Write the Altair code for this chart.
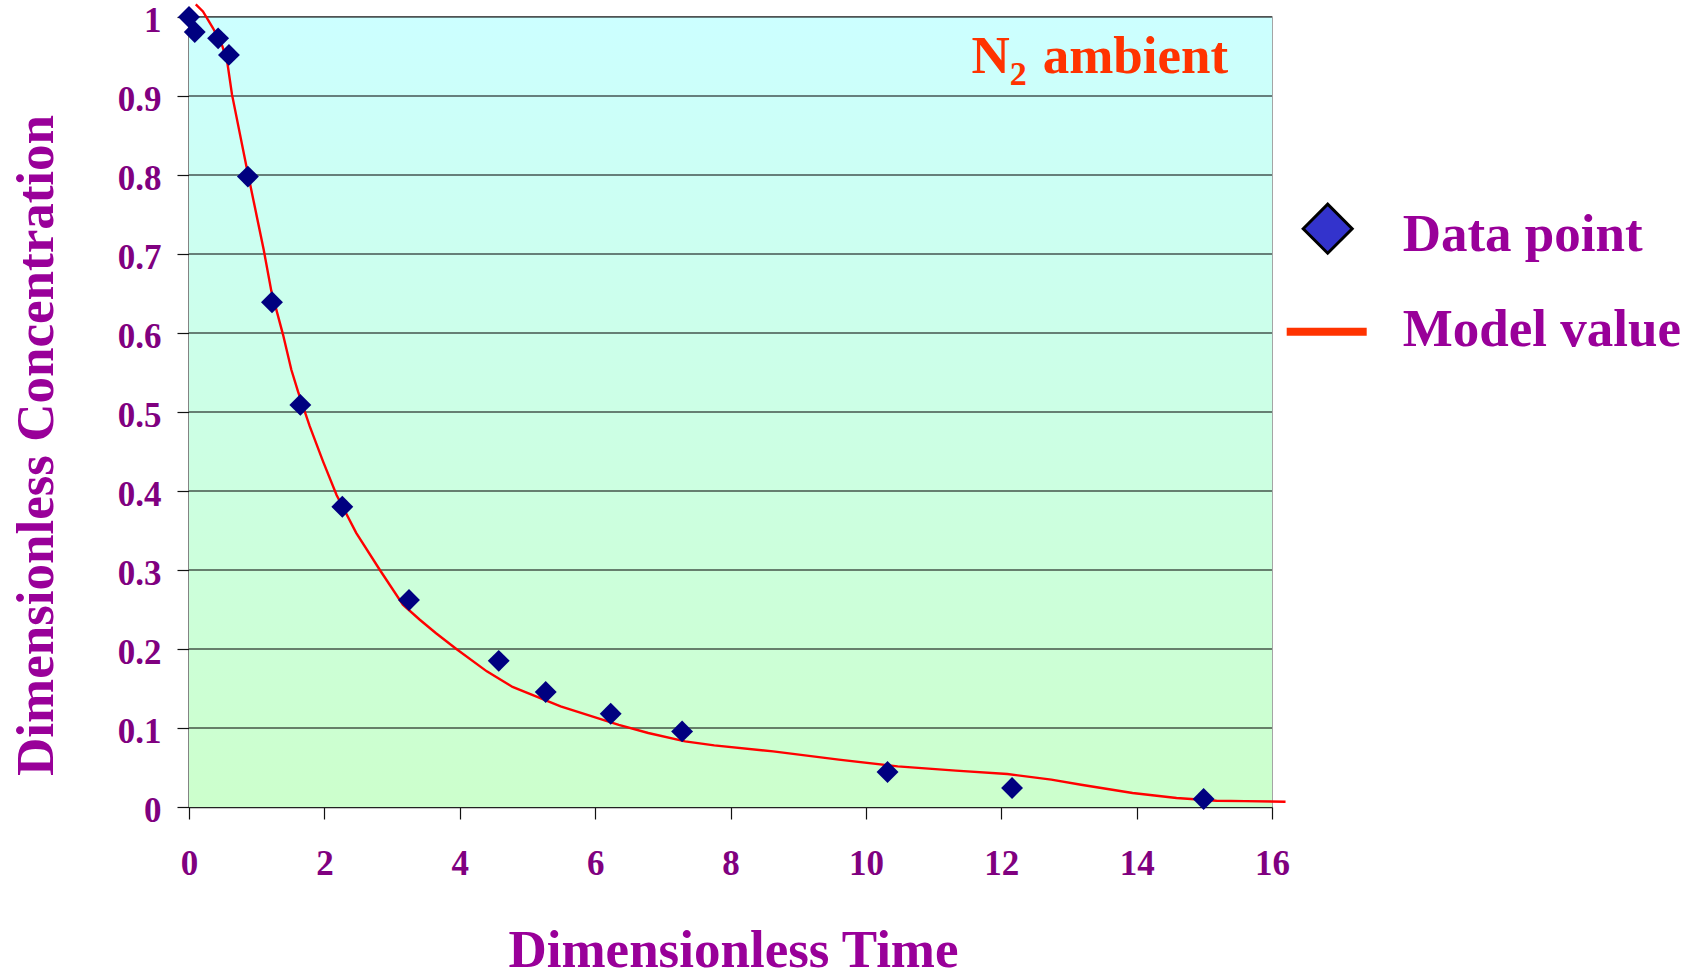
import altair as alt
import pandas as pd

# ---- data ----
data_t = [0.0, 0.085, 0.43, 0.59, 0.87, 1.226, 1.645, 2.265, 3.25, 4.576, 5.27, 6.23, 7.285, 10.32, 12.16, 14.99]
data_c = [1.0, 0.981, 0.973, 0.952, 0.798, 0.639, 0.509, 0.380, 0.262, 0.185, 0.1456, 0.118, 0.0957, 0.0443, 0.024, 0.0101]

model_t = [0.10, 0.206, 0.354, 0.493, 0.567, 0.635, 0.848, 1.103, 1.217, 1.389, 1.512, 1.61, 1.783, 1.98,
           2.18, 2.47, 2.82, 3.16, 3.41, 3.65, 3.95, 4.40, 4.78, 5.49, 6.35, 6.785, 7.33, 7.76, 8.63,
           9.60, 10.47, 11.33, 12.09, 12.74, 13.18, 13.94, 14.59, 15.18, 15.6, 16.2]
model_c = [1.016, 1.007, 0.986, 0.963, 0.942, 0.902, 0.811, 0.7056, 0.653, 0.598, 0.5535, 0.526, 0.482, 0.4375,
           0.395, 0.347, 0.300, 0.256, 0.237, 0.220, 0.200, 0.1717, 0.152, 0.1274, 0.104, 0.0937, 0.083, 0.078, 0.0704,
           0.060, 0.0514, 0.046, 0.0418, 0.0346, 0.0282, 0.0177, 0.0114, 0.008, 0.0075, 0.0067]

x_ticks = [0, 2, 4, 6, 8, 10, 12, 14, 16]
y_ticks = [0, 0.1, 0.2, 0.3, 0.4, 0.5, 0.6, 0.7, 0.8, 0.9, 1.0]

legend_labels = ["Data point", "Model value"]
x_title = "Dimensionless Time"
y_title = "Dimensionless Concentration"

FONT = "Liberation Serif"
LABEL_COLOR = "#800080"
TITLE_COLOR = "#990099"

W, H = 1083, 790

pts = pd.DataFrame({"t": data_t, "c": data_c})
model = pd.DataFrame({"t": model_t, "c": model_c})
grid = pd.DataFrame({"c": y_ticks[1:]})
one = pd.DataFrame({"k": [0]})

xscale = alt.Scale(domain=[0, 16], nice=False, zero=False)
yscale = alt.Scale(domain=[0, 1], nice=False, zero=False)

xaxis = alt.Axis(
    values=x_ticks, format="d", grid=False, labelFlush=False, labelOverlap=False,
    domainColor="#222222", domainWidth=1.5,
    tickColor="#111111", tickSize=12, tickWidth=1.2,
    labelFont=FONT, labelFontSize=35, labelFontWeight="bold", labelColor=LABEL_COLOR,
    labelPadding=27,
    title=x_title, titleFont=FONT, titleFontSize=53, titleFontWeight="bold", titleColor=TITLE_COLOR,
    titleX=544, titleY=159, titleAlign="center", titleBaseline="alphabetic",
)
yaxis = alt.Axis(
    values=y_ticks, format=".1~f", grid=False, labelFlush=False, labelOverlap=False,
    domainColor="#222222", domainWidth=1.5,
    tickColor="#111111", tickSize=12, tickWidth=1.2,
    labelFont=FONT, labelFontSize=35, labelFontWeight="bold", labelColor=LABEL_COLOR,
    labelPadding=16, labelOffset=3,
    title=y_title, titleFont=FONT, titleFontSize=53, titleFontWeight="bold", titleColor=TITLE_COLOR,
    titleAngle=270, titleX=-137, titleY=428, titleAlign="center", titleBaseline="alphabetic",
)

bg = alt.LinearGradient(
    gradient="linear", x1=0, y1=0, x2=0, y2=1,
    stops=[alt.GradientStop(offset=0, color="#CCFFFF"), alt.GradientStop(offset=1, color="#CCFFCC")],
)

background = alt.Chart(one).mark_rect(color=bg, opacity=1).encode(
    x=alt.value(0), x2=alt.value(W), y=alt.value(0), y2=alt.value(H))

gridlines = alt.Chart(grid).mark_rule(color="#000000", strokeWidth=1.2).encode(
    y=alt.Y("c:Q", scale=yscale, axis=yaxis),
    x=alt.value(0), x2=alt.value(W),
)

line = alt.Chart(model).mark_line(color="#FF0000", strokeWidth=2.4, clip=False).encode(
    x=alt.X("t:Q", scale=xscale, axis=xaxis),
    y=alt.Y("c:Q", scale=yscale, axis=yaxis),
)

points = alt.Chart(pts).mark_point(shape="diamond", size=480, filled=True, color="#000080", opacity=1).encode(
    x=alt.X("t:Q", scale=xscale),
    y=alt.Y("c:Q", scale=yscale),
)

# annotation "N2 ambient"
ann_n = alt.Chart(one).mark_text(text="N", font=FONT, fontSize=53, fontWeight="bold", color="#FF3300",
                                 align="left", baseline="alphabetic").encode(
    x=alt.value(782.4), y=alt.value(55.7))
ann_2 = alt.Chart(one).mark_text(text="2", font=FONT, fontSize=34, fontWeight="bold", color="#FF3300",
                                 align="left", baseline="alphabetic").encode(
    x=alt.value(820.7), y=alt.value(67.7))
ann_a = alt.Chart(one).mark_text(text="ambient", font=FONT, fontSize=53, fontWeight="bold", color="#FF3300",
                                 align="left", baseline="alphabetic").encode(
    x=alt.value(853.7), y=alt.value(55.7))

# manual legend
leg_sym = alt.Chart(one).mark_point(shape="diamond", size=2400, filled=True, fill="#3333CC",
                                    stroke="#000000", strokeWidth=3, opacity=1).encode(
    x=alt.value(1138.7), y=alt.value(211.7))
leg_line = alt.Chart(one).mark_rule(color="#FF3300", strokeWidth=8).encode(
    x=alt.value(1097.7), x2=alt.value(1177.7), y=alt.value(314.7))
leg_t1 = alt.Chart(one).mark_text(text=legend_labels[0], font=FONT, fontSize=53, fontWeight="bold",
                                  color=TITLE_COLOR, align="left", baseline="alphabetic").encode(
    x=alt.value(1213.7), y=alt.value(233.7))
leg_t2 = alt.Chart(one).mark_text(text=legend_labels[1], font=FONT, fontSize=53, fontWeight="bold",
                                  color=TITLE_COLOR, align="left", baseline="alphabetic").encode(
    x=alt.value(1213.7), y=alt.value(328.7))

chart = alt.layer(background, gridlines, line, points, ann_n, ann_2, ann_a,
                  leg_sym, leg_line, leg_t1, leg_t2).properties(
    width=W, height=H,
    autosize=alt.AutoSizeParams(type="none"),
    padding={"left": 189, "top": 17, "right": 431, "bottom": 168},
    background="#FFFFFF",
).configure_view(stroke="#888888", strokeWidth=1.5)

chart.save("out.html", embed_options={"renderer": "svg", "actions": False})
